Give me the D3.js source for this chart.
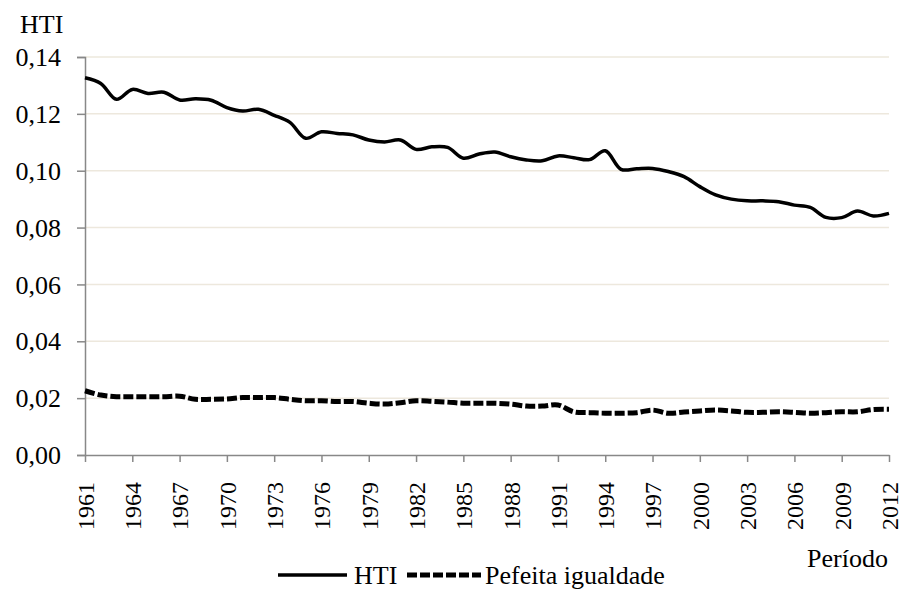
<!DOCTYPE html>
<html>
<head>
<meta charset="utf-8">
<script src="https://cdn.jsdelivr.net/npm/d3@7.9.0/dist/d3.min.js"></script>
<style>
  body { margin: 0; background: #fff; }
  svg text { font-family: 'Liberation Serif', 'Times New Roman', Times, 'DejaVu Serif', serif !important; fill: #000; }
</style>
</head>
<body>
<svg id="chart" width="901" height="589"></svg>
<script>
const years = d3.range(1961, 2013);

const hti = [
  0.1327, 0.1307, 0.1251, 0.1286, 0.1272, 0.1276, 0.1249, 0.1253, 0.1248, 0.1222,
  0.1210, 0.1216, 0.1195, 0.1170, 0.1114, 0.1137, 0.1131, 0.1126, 0.1108, 0.1101,
  0.1108, 0.1075, 0.1084, 0.1082, 0.1044, 0.1059, 0.1066, 0.1049, 0.1038, 0.1035,
  0.1052, 0.1046, 0.1039, 0.1070, 0.1005, 0.1007, 0.1008, 0.0997, 0.0979, 0.0944,
  0.0915, 0.0900, 0.0894, 0.0894, 0.0891, 0.0879, 0.0871, 0.0836, 0.0835, 0.0858,
  0.0841, 0.0850
];

const igualdade = [
  0.0226, 0.0211, 0.0205, 0.0205, 0.0205, 0.0205, 0.0207, 0.0196, 0.0196, 0.0197,
  0.0202, 0.0202, 0.0202, 0.0196, 0.0191, 0.0191, 0.0188, 0.0188, 0.0182, 0.0179,
  0.0184, 0.0191, 0.0189, 0.0186, 0.0182, 0.0182, 0.0182, 0.0179, 0.0172, 0.0172,
  0.0176, 0.0152, 0.0149, 0.0147, 0.0147, 0.0149, 0.0158, 0.0147, 0.0151, 0.0155,
  0.0158, 0.0155, 0.0150, 0.0150, 0.0152, 0.0150, 0.0147, 0.0149, 0.0152, 0.0152,
  0.0160, 0.0161
];

const yTicks = [0, 0.02, 0.04, 0.06, 0.08, 0.10, 0.12, 0.14];
const xTicks = d3.range(1961, 2013, 3);

const svg = d3.select("#chart");

const x = d3.scaleLinear().domain([1961, 2012]).range([85, 889]);
const y = d3.scaleLinear().domain([0, 0.14]).range([455, 57]);

const ptBR = d3.formatLocale({ decimal: ",", thousands: ".", grouping: [3], currency: ["R$", ""] });
const fmt = ptBR.format(".2f");

// gridlines
svg.append("g")
  .selectAll("line")
  .data(yTicks.filter((d) => d > 0))
  .join("line")
  .attr("x1", x(1961))
  .attr("x2", x(2012))
  .attr("y1", (d) => y(d))
  .attr("y2", (d) => y(d))
  .attr("stroke", "#ede8dd")
  .attr("stroke-width", 1.5);

// y axis
const yAxis = svg.append("g")
  .attr("transform", `translate(${x(1961)},0)`)
  .call(d3.axisLeft(y).tickValues(yTicks).tickFormat(fmt).tickSize(8).tickPadding(16));
yAxis.select(".domain").attr("stroke", "#888").attr("stroke-width", 1.5);
yAxis.selectAll(".tick line").attr("stroke", "#888").attr("stroke-width", 1.5);
yAxis.selectAll(".tick text")
  .attr("dy", "0.33em")
  .style("font-size", "26px");

// x axis
const xAxis = svg.append("g")
  .attr("transform", `translate(0,${y(0)})`)
  .call(d3.axisBottom(x).tickValues(xTicks).tickFormat(d3.format("d")).tickSize(7).tickSizeOuter(0));
xAxis.select(".domain").attr("stroke", "#888").attr("stroke-width", 1.5);
xAxis.selectAll(".tick line").attr("stroke", "#888").attr("stroke-width", 1.5);
xAxis.selectAll(".tick text")
  .attr("transform", "rotate(-90)")
  .attr("x", -27)
  .attr("y", 0)
  .attr("dy", "0.35em")
  .attr("text-anchor", "end")
  .style("font-size", "24px");

// lines
const line = d3.line()
  .x((d, i) => x(years[i]))
  .y((d) => y(d))
  .curve(d3.curveCatmullRom.alpha(0.5));

svg.append("path")
  .datum(igualdade)
  .attr("fill", "none")
  .attr("stroke", "#000")
  .attr("stroke-width", 5)
  .attr("stroke-dasharray", "10,3")
  .attr("d", line);

svg.append("path")
  .datum(hti)
  .attr("fill", "none")
  .attr("stroke", "#000")
  .attr("stroke-width", 3.5)
  .attr("d", line);

// axis titles
svg.append("text")
  .attr("x", 20)
  .attr("y", 33)
  .style("font-size", "26px")
  .text("HTI");

svg.append("text")
  .attr("x", 888)
  .attr("y", 567)
  .attr("text-anchor", "end")
  .style("font-size", "26px")
  .text("Período");

// legend
const legend = svg.append("g");
legend.append("line")
  .attr("x1", 278).attr("x2", 347)
  .attr("y1", 575).attr("y2", 575)
  .attr("stroke", "#000").attr("stroke-width", 3.5);
legend.append("text")
  .attr("x", 354).attr("y", 584)
  .style("font-size", "26px")
  .text("HTI");
legend.append("line")
  .attr("x1", 407).attr("x2", 481)
  .attr("y1", 575).attr("y2", 575)
  .attr("stroke", "#000").attr("stroke-width", 5)
  .attr("stroke-dasharray", "10,3");
legend.append("text")
  .attr("x", 485).attr("y", 584)
  .style("font-size", "26px")
  .text("Pefeita igualdade");
</script>
</body>
</html>
